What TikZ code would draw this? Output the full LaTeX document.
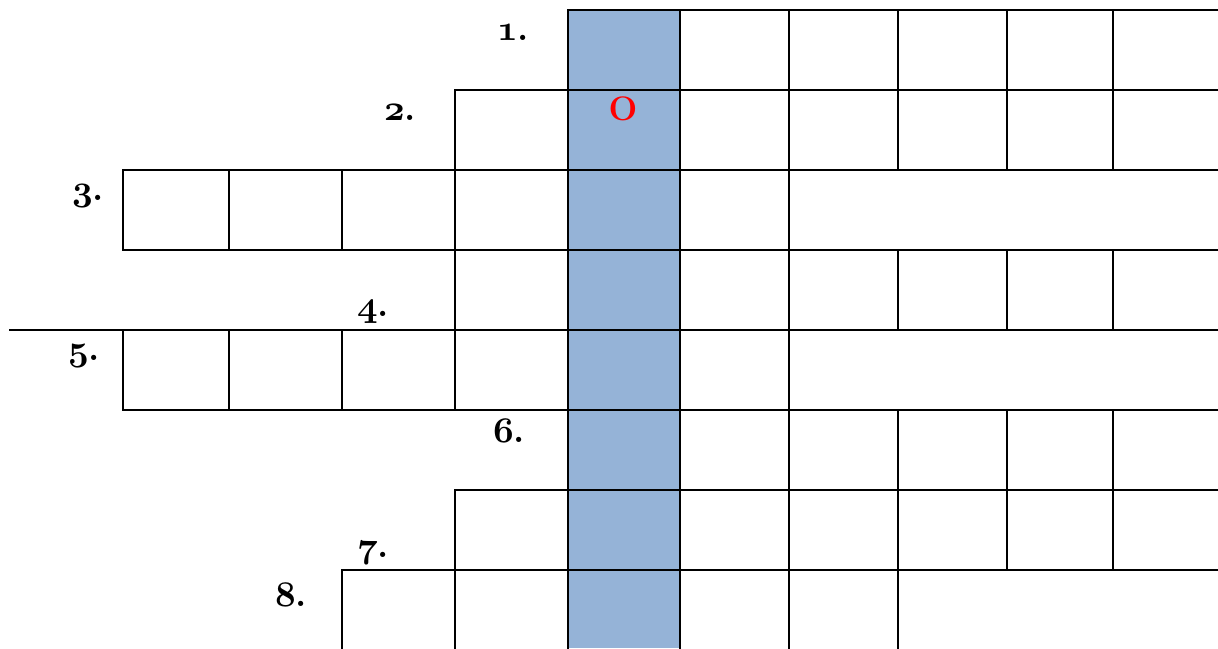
\RequirePackage{fix-cm}
\documentclass[tikz,border=0pt]{standalone}
\usepackage{xcolor}
\definecolor{keyblue}{HTML}{95B3D7}
\newcommand{\clue}[1]{{\boldmath$\oldstylenums{#1}$}.}
\begin{document}
\begin{tikzpicture}[x=1pt,y=-1pt,
  gridline/.style={line width=2.9pt, line cap=rect, black},
  lbl/.style={anchor=base west, inner sep=0pt, font=\fontsize{36}{42}\selectfont\bfseries},
  keyletter/.style={anchor=base, inner sep=0pt, text=red, font=\fontsize{34}{40}\selectfont\bfseries}]
\useasboundingbox (0,0) rectangle (1218,648);
% highlighted column
\fill[keyblue] (568,10) rectangle (680,648);
% horizontal lines
\draw[gridline] (568,10) -- (1218,10);
\draw[gridline] (455,90) -- (1218,90);
\draw[gridline] (123,170) -- (1218,170);
\draw[gridline] (123,250) -- (1218,250);
\draw[gridline] (10,330) -- (1218,330);
\draw[gridline] (123,410) -- (1218,410);
\draw[gridline] (455,490) -- (1218,490);
\draw[gridline] (342,570) -- (1218,570);
% vertical lines
\foreach \x in {123,229}{
  \draw[gridline] (\x,170) -- (\x,250);
  \draw[gridline] (\x,330) -- (\x,410);
}
\draw[gridline] (342,170) -- (342,250);
\draw[gridline] (342,330) -- (342,410);
\draw[gridline] (342,570) -- (342,650);
\draw[gridline] (455,90) -- (455,410);
\draw[gridline] (455,490) -- (455,650);
\foreach \x in {568,680,789}{
  \draw[gridline] (\x,10) -- (\x,650);
}
\draw[gridline] (898,10) -- (898,170);
\draw[gridline] (898,250) -- (898,330);
\draw[gridline] (898,410) -- (898,650);
\foreach \x in {1007,1113}{
  \draw[gridline] (\x,10) -- (\x,170);
  \draw[gridline] (\x,250) -- (\x,330);
  \draw[gridline] (\x,410) -- (\x,570);
}
% labels
\node[lbl] (l1) at (497,40) {\clue{1}};
\node[lbl] (l2) at (384,120) {\clue{2}};
\node[lbl] (l3) at (72,200) {\clue{3}};
\node[lbl] (l4) at (357,316) {\clue{4}};
\node[lbl] (l5) at (68,360) {\clue{5}};
\node[lbl] (l6) at (493,442) {\clue{6}};
\node[lbl] (l7) at (357,557) {\clue{7}};
\node[lbl] (l8) at (275,606) {\clue{8}};
\node[keyletter] (key) at (623,120) {O};
\end{tikzpicture}
\end{document}
